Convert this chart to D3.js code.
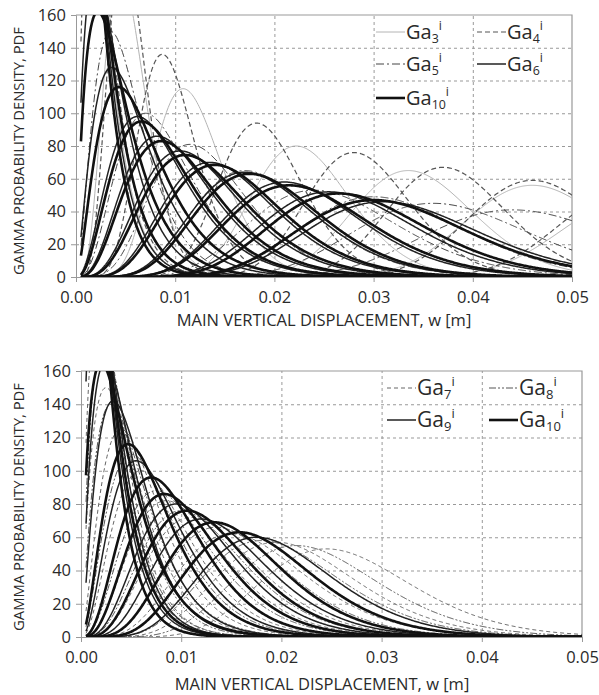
<!DOCTYPE html>
<html><head><meta charset="utf-8">
<script src="https://cdn.jsdelivr.net/npm/d3@7"></script>
<style>body{margin:0;background:#fff}svg{display:block}text{font-family:"Open Sans",sans-serif;fill:#2a2a2a}</style>
</head><body><svg id="c" width="599" height="695"></svg>
<script>
// ---- data: mode (w at peak, m) and peak PDF of every gamma curve ----
// top panel
const ga3Modes  = [0.0012, 0.0045, 0.0108, 0.0222, 0.0335, 0.0460, 0.0570];
const ga3Peaks  = [260, 185, 115, 80, 65, 56, 50];
const ga4Modes  = [0.0016, 0.0048, 0.0087, 0.0182, 0.0280, 0.0370, 0.0460, 0.0560];
const ga4Peaks  = [240, 200, 136, 94, 76, 67, 59, 54];
const ga5Modes  = [0.0014, 0.0035, 0.0070, 0.0115, 0.0170, 0.0240, 0.0300, 0.0360, 0.0440];
const ga5Peaks  = [230, 150, 100, 81, 65, 53, 49, 45, 41];
const ga6Modes  = [0.0010, 0.0019, 0.0036, 0.0062, 0.0082, 0.0105, 0.0135, 0.0170, 0.0210, 0.0255, 0.0310];
const ga6Peaks  = [270, 185, 128, 98, 86, 77, 70, 64, 58, 52, 46];
const ga10Modes = [0.0008, 0.0013, 0.0022, 0.0043, 0.0066, 0.0086, 0.0110, 0.0140, 0.0175, 0.0215, 0.0265, 0.0300];
const ga10Peaks = [300, 230, 162, 116, 95, 83, 74.5, 68.5, 63, 56, 51, 47];
// bottom panel
const ga7Modes  = [0.0012, 0.0018, 0.0025, 0.0040, 0.0060, 0.0085, 0.0110, 0.0150, 0.0195, 0.0245];
const ga7Peaks  = [230, 200, 150, 125, 100, 82, 72, 62, 57, 53];
const ga8Modes  = [0.0014, 0.0022, 0.0030, 0.0050, 0.0075, 0.0100, 0.0135, 0.0180, 0.0215];
const ga8Peaks  = [210, 175, 140, 110, 88, 76, 66, 58, 55];
const ga9Modes  = [0.0010, 0.0015, 0.0024, 0.0032, 0.0055, 0.0095, 0.0120, 0.0175];
const ga9Peaks  = [260, 220, 165, 142, 106, 80, 71, 60];
const gb10Modes = [0.0008, 0.0012, 0.0020, 0.0047, 0.0070, 0.0083, 0.0106, 0.0133, 0.0158];
const gb10Peaks = [300, 240, 165, 116, 96, 86, 76, 69, 63];

const xTicks = [0, 0.01, 0.02, 0.03, 0.04, 0.05];
const xTickLabels = ["0.00", "0.01", "0.02", "0.03", "0.04", "0.05"];
const yTicks = [0, 20, 40, 60, 80, 100, 120, 140, 160];
const xTitle = "MAIN VERTICAL DISPLACEMENT, w [m]";
const yTitle = "GAMMA PROBABILITY DENSITY, PDF";

// ---- gamma helpers ----
function lgamma(z){const g=7,c=[0.99999999999980993,676.5203681218851,-1259.1392167224028,771.32342877765313,-176.61502916214059,12.507343278686905,-0.13857109526572012,9.9843695780195716e-6,1.5056327351493116e-7];
  if(z<0.5) return Math.log(Math.PI/Math.sin(Math.PI*z))-lgamma(1-z);
  z-=1;let a=c[0];const t=z+g+0.5;for(let i=1;i<9;i++)a+=c[i]/(z+i);
  return 0.5*Math.log(2*Math.PI)+(z+0.5)*Math.log(t)-t+Math.log(a);}
function shapeFrom(m,p){const c=m*p;const g=k=>Math.exp(k*Math.log(k-1)-(k-1)-lgamma(k));
  let lo=1.0001,hi=2000;for(let i=0;i<80;i++){const mid=(lo+hi)/2;if(g(mid)<c)lo=mid;else hi=mid;}return (lo+hi)/2;}
function curve(m,p){const k=shapeFrom(m,p),th=m/(k-1),lg=lgamma(k),pts=[];
  for(let x=0.0005;x<=0.05+1e-9;x+=0.0001){pts.push([x,Math.exp((k-1)*Math.log(x)-x/th-lg-k*Math.log(th))]);}
  return pts;}

const svg=d3.select("#c");
const styles={
  ga3:{stroke:"#b4b4b4",w:1,dash:null},
  ga4:{stroke:"#555",w:1.2,dash:"5,3"},
  ga5:{stroke:"#444",w:1,dash:"8,3,2,3"},
  ga6:{stroke:"#222",w:1.5,dash:null},
  ga10:{stroke:"#111",w:2.6,dash:null},
  ga7:{stroke:"#666",w:1,dash:"4,3"},
  ga8:{stroke:"#555",w:1,dash:"7,2,2,2,2,2"},
  ga9:{stroke:"#222",w:1.5,dash:null}
};

function panel(id,box,families,legend,xTitleY,xTitleX,yTitleY){
  const x=d3.scaleLinear().domain([0,0.05]).range([box.l,box.r]);
  const y=d3.scaleLinear().domain([0,160]).range([box.b,box.t]);
  const g=svg.append("g");
  g.append("defs").append("clipPath").attr("id",id).append("rect")
    .attr("x",box.l).attr("y",box.t).attr("width",box.r-box.l).attr("height",box.b-box.t);
  g.append("g").attr("transform",`translate(0,${box.b})`)
    .call(d3.axisBottom(x).tickValues(xTicks.slice(1,-1)).tickSize(-(box.b-box.t)).tickFormat(""))
    .call(s=>{s.select(".domain").remove();s.selectAll("line").attr("stroke","#999").attr("stroke-dasharray","3,3");});
  g.append("g").attr("transform",`translate(${box.l},0)`)
    .call(d3.axisLeft(y).tickValues(yTicks.slice(1,-1)).tickSize(-(box.r-box.l)).tickFormat(""))
    .call(s=>{s.select(".domain").remove();s.selectAll("line").attr("stroke","#999").attr("stroke-dasharray","3,3");});
  g.append("g").attr("transform",`translate(0,${box.b})`)
    .call(d3.axisBottom(x).tickValues(xTicks).tickSize(5).tickPadding(9).tickFormat((d,i)=>xTickLabels[i]))
    .call(s=>{s.select(".domain").attr("stroke","#999");s.selectAll("line").attr("stroke","#999");
      s.selectAll("text").attr("font-size",16.5).attr("fill","#2a2a2a").attr("font-family","Open Sans");});
  g.append("g").attr("transform",`translate(${box.l},0)`)
    .call(d3.axisLeft(y).tickValues(yTicks).tickSize(5).tickPadding(5))
    .call(s=>{s.select(".domain").attr("stroke","#999");s.selectAll("line").attr("stroke","#999");
      s.selectAll("text").attr("font-size",16.5).attr("fill","#2a2a2a").attr("font-family","Open Sans");});
  g.append("path").attr("d",`M${box.l},${box.t}H${box.r}V${box.b}`).attr("fill","none").attr("stroke","#999").attr("stroke-width",1.2);
  const line=d3.line().x(d=>x(d[0])).y(d=>y(d[1]));
  const cg=g.append("g").attr("clip-path",`url(#${id})`);
  families.forEach(f=>{
    const st=styles[f.style];
    f.modes.forEach((m,i)=>{
      cg.append("path").datum(curve(m,f.peaks[i])).attr("d",line).attr("fill","none")
        .attr("stroke",st.stroke).attr("stroke-width",st.w).attr("stroke-dasharray",st.dash)
        .attr("stroke-linejoin","round");
    });
  });
  legend.forEach(e=>{
    const st=styles[e.style];
    g.append("line").attr("x1",e.x).attr("x2",e.x+29).attr("y1",e.y).attr("y2",e.y)
      .attr("stroke",st.stroke).attr("stroke-width",st.w).attr("stroke-dasharray",st.dash);
    const t=g.append("text").attr("x",e.x+30).attr("y",e.y+7).attr("font-size",e.fs);
    t.append("tspan").text("Ga");
    t.append("tspan").attr("font-size",e.fs*0.62).attr("dy",4).text(e.sub);
    t.append("tspan").attr("font-size",e.fs*0.62).attr("dy",-13).text("i");
  });
  svg.append("text").attr("x",xTitleX).attr("y",xTitleY).attr("text-anchor","middle").attr("font-size",16.5).text(xTitle);
  svg.append("text").attr("transform",`translate(24,${yTitleY}) rotate(-90)`).attr("text-anchor","middle").attr("font-size",14.8).text(yTitle);
}

panel("clipTop",{l:76,r:572,t:15,b:277},[
  {style:"ga3",modes:ga3Modes,peaks:ga3Peaks},
  {style:"ga4",modes:ga4Modes,peaks:ga4Peaks},
  {style:"ga5",modes:ga5Modes,peaks:ga5Peaks},
  {style:"ga6",modes:ga6Modes,peaks:ga6Peaks},
  {style:"ga10",modes:ga10Modes,peaks:ga10Peaks}
],[
  {style:"ga3",sub:"3",x:376,y:32,fs:20},{style:"ga4",sub:"4",x:477,y:32,fs:20},
  {style:"ga5",sub:"5",x:376,y:64,fs:20},{style:"ga6",sub:"6",x:477,y:64,fs:20},
  {style:"ga10",sub:"10",x:376,y:98,fs:20}
],326,324,151);

panel("clipBot",{l:81,r:582,t:371,b:637},[
  {style:"ga7",modes:ga7Modes,peaks:ga7Peaks},
  {style:"ga8",modes:ga8Modes,peaks:ga8Peaks},
  {style:"ga9",modes:ga9Modes,peaks:ga9Peaks},
  {style:"ga10",modes:gb10Modes,peaks:gb10Peaks}
],[
  {style:"ga7",sub:"7",x:387,y:388,fs:21},{style:"ga8",sub:"8",x:489,y:388,fs:21},
  {style:"ga9",sub:"9",x:387,y:420,fs:21},{style:"ga10",sub:"10",x:489,y:420,fs:21}
],690,322,507);
</script></body></html>
